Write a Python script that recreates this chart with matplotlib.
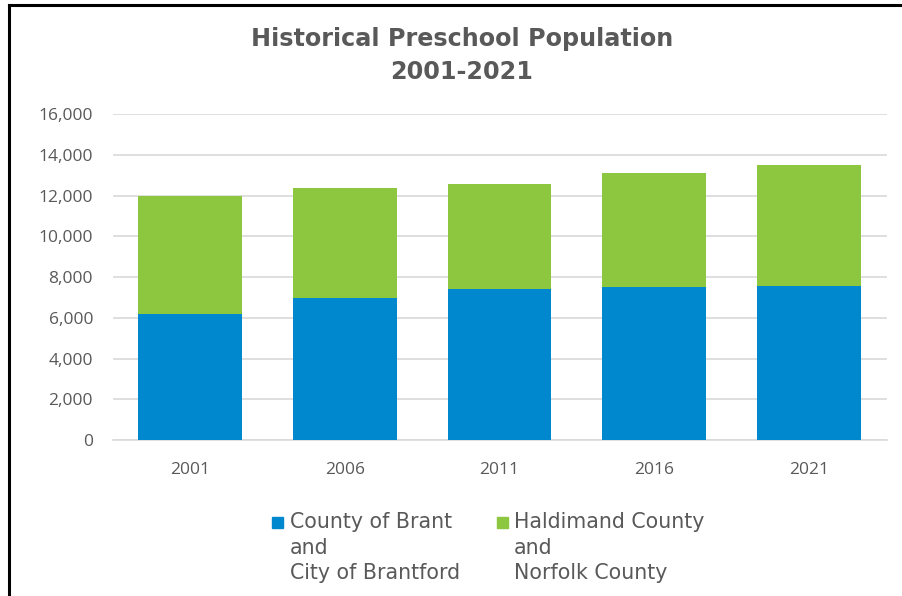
import matplotlib
matplotlib.use("Agg")
import matplotlib.pyplot as plt
from matplotlib.lines import Line2D
from matplotlib.patches import Rectangle
import numpy as np

years = ["2001", "2006", "2011", "2016", "2021"]
brant = [6190, 6975, 7415, 7500, 7580]
haldimand = [5780, 5415, 5145, 5600, 5920]
series_labels = ["County of Brant\nand\nCity of Brantford", "Haldimand County\nand\nNorfolk County"]
yticks = [0, 2000, 4000, 6000, 8000, 10000, 12000, 14000, 16000]

BLUE = "#0088CE"
GREEN = "#8DC63F"
TXT = "#595959"

plt.rcParams['font.family'] = ['Open Sans', 'DejaVu Sans']

W, H = 902, 596
fig = plt.figure(figsize=(W / 100, H / 100), dpi=100)
ax = fig.add_axes([112.5 / W, 1 - 440 / H, (886.5 - 112.5) / W, (440 - 114.3) / H])

x = np.arange(len(years))
ax.bar(x, brant, width=0.67, color=BLUE, label=series_labels[0], zorder=3)
ax.bar(x, haldimand, width=0.67, bottom=brant, color=GREEN, label=series_labels[1], zorder=3)

ax.set_xlim(-0.5, len(years) - 0.5)
ax.set_ylim(0, 16000)
ax.set_yticks(yticks)
ax.set_yticklabels([f"{v:,}" for v in yticks])
ax.set_xticks(x)
ax.set_xticklabels(years)
ax.tick_params(axis='both', length=0, colors=TXT, labelsize=12.5)
ax.tick_params(axis='y', pad=14)
ax.tick_params(axis='x', pad=16)
ax.grid(axis='y', color="#D9D9D9", linewidth=1.2, zorder=0)
for s in ["top", "right", "left"]:
    ax.spines[s].set_visible(False)
ax.spines["bottom"].set_color("#D9D9D9")
ax.spines["bottom"].set_linewidth(1.2)

fig.text(462 / W, 1 - 39 / H, "Historical Preschool Population", ha='center', va='center',
         fontsize=17.2, fontweight='bold', color=TXT, family='DejaVu Sans')
fig.text(462 / W, 1 - 72 / H, "2001-2021", ha='center', va='center',
         fontsize=17.2, fontweight='bold', color=TXT, family='DejaVu Sans')

# legend (handle aligned with first text line)
leg_items = [(272, 290, BLUE, series_labels[0]), (497, 514, GREEN, series_labels[1])]
for hx, tx, col, lab in leg_items:
    fig.add_artist(Rectangle((hx / W, 1 - 528 / H), 11 / W, 11 / H, color=col,
                             transform=fig.transFigure))
    fig.text(tx / W, 1 - 512 / H, lab, ha='left', va='top', fontsize=14.8, color=TXT,
             family='DejaVu Sans', linespacing=1.35)

# border lines
fig.add_artist(Line2D([9 / W, 1], [1 - 5 / H, 1 - 5 / H], color='black', linewidth=2.2,
                      transform=fig.transFigure))
fig.add_artist(Line2D([9 / W, 9 / W], [1 - 5 / H, 0], color='black', linewidth=2.2,
                      transform=fig.transFigure))

fig.savefig("out.png", dpi=100)
